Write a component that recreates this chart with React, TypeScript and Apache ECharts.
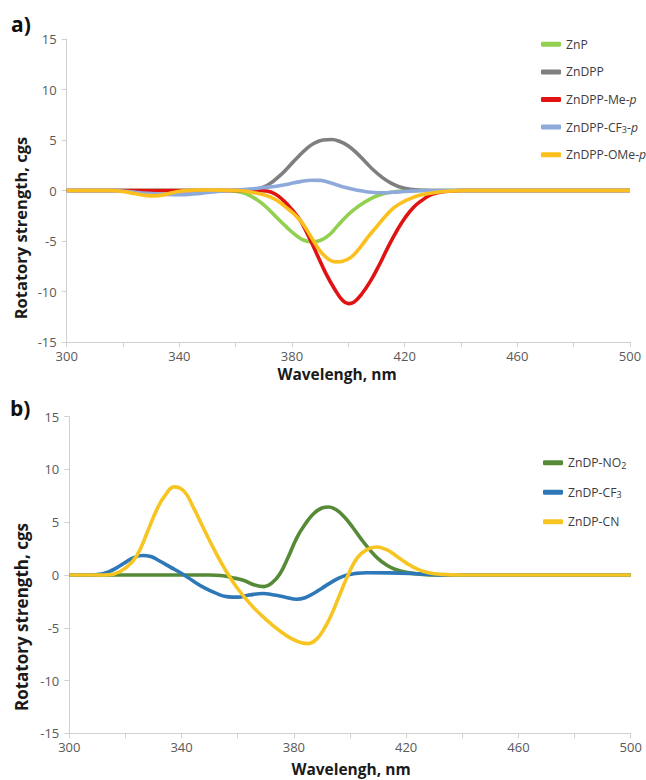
import React, { useEffect, useRef } from "react";
import * as echarts from "echarts";

// ---- Panel a) data: [wavelength nm, rotatory strength cgs] ----
const ZnP: [number, number][] = [
  [300, 0], [330, 0], [350, 0], [356, 0], [360, -0.06], [363, -0.25], [366, -0.65], [369, -1.2],
  [372, -1.95], [375, -2.8], [378, -3.6], [381, -4.35], [384, -4.9], [387, -5.08], [390, -4.95],
  [393, -4.45], [396, -3.55], [399, -2.65], [402, -1.9], [405, -1.3], [408, -0.8], [411, -0.45],
  [415, -0.18], [420, -0.04], [425, 0], [450, 0], [500, 0],
];
const ZnDPP: [number, number][] = [
  [300, 0], [330, 0], [355, 0], [364, 0], [367, 0.1], [370, 0.35], [373, 0.85], [376, 1.55],
  [379, 2.4], [382, 3.3], [385, 4.1], [388, 4.7], [391, 5.0], [394, 5.05], [397, 4.85],
  [400, 4.4], [403, 3.7], [406, 2.85], [409, 2.0], [412, 1.3], [415, 0.75], [418, 0.38],
  [422, 0.12], [427, 0.02], [432, 0], [460, 0], [500, 0],
];
const ZnDPPMe: [number, number][] = [
  [300, 0], [330, 0], [355, 0], [368, 0], [371, -0.05], [374, -0.35], [377, -1.0], [380, -1.9],
  [383, -3.0], [386, -4.6], [389, -6.4], [392, -8.2], [395, -9.7], [398, -10.9], [400, -11.2],
  [402, -11.05], [405, -10.15], [408, -8.9], [411, -7.35], [414, -5.65], [417, -4.1], [420, -2.75],
  [423, -1.7], [426, -1.0], [429, -0.46], [432, -0.2], [436, -0.05], [440, 0], [470, 0], [500, 0],
];
const ZnDPPCF3: [number, number][] = [
  [300, 0], [310, 0], [318, 0], [321, -0.08], [325, -0.2], [330, -0.3], [335, -0.38], [340, -0.42],
  [345, -0.35], [350, -0.2], [355, -0.05], [359, 0.02], [363, 0.1], [367, 0.2], [371, 0.32],
  [375, 0.45], [379, 0.65], [383, 0.88], [387, 1.02], [390, 1.0], [393, 0.82], [396, 0.55],
  [399, 0.3], [402, 0.1], [405, -0.05], [408, -0.17], [412, -0.23], [416, -0.18], [420, -0.1],
  [424, -0.04], [428, 0], [460, 0], [500, 0],
];
const ZnDPPOMe: [number, number][] = [
  [300, 0], [310, 0], [316, 0], [320, -0.1], [324, -0.3], [328, -0.48], [331, -0.53], [334, -0.45],
  [337, -0.25], [340, -0.08], [344, 0.03], [350, 0.05], [356, 0.02], [360, 0], [363, -0.05],
  [366, -0.2], [369, -0.35], [372, -0.6], [375, -1.05], [378, -1.7], [381, -2.4], [384, -3.35],
  [387, -4.7], [390, -6.0], [393, -6.8], [395.5, -7.07], [398, -7.0], [401, -6.6], [404, -5.7],
  [407, -4.6], [410, -3.6], [413, -2.6], [416, -1.75], [419, -1.2], [422, -0.8], [425, -0.5],
  [429, -0.28], [433, -0.12], [438, -0.03], [442, 0], [470, 0], [500, 0],
];

// ---- Panel b) data ----
const ZnDPNO2: [number, number][] = [
  [300, 0], [320, 0], [340, 0], [350, 0], [354, -0.05], [358, -0.25], [362, -0.5], [366, -0.95],
  [369.5, -1.1], [372, -0.8], [375, 0.1], [378, 1.7], [381, 3.5], [384, 4.8], [387, 5.8],
  [390, 6.35], [392.5, 6.45], [395, 6.2], [398, 5.5], [401, 4.5], [404, 3.4], [407, 2.4],
  [410, 1.55], [413, 0.95], [416, 0.55], [420, 0.25], [425, 0.08], [430, 0], [460, 0], [500, 0],
];
const ZnDPCF3: [number, number][] = [
  [300, 0], [306, 0], [310, 0.05], [314, 0.3], [317, 0.7], [320, 1.2], [323, 1.65], [326, 1.85],
  [329, 1.75], [332, 1.35], [336, 0.75], [340, 0.15], [344, -0.55], [348, -1.2], [352, -1.7],
  [356, -2.05], [360, -2.1], [364, -1.9], [369, -1.75], [373, -1.9], [377, -2.1], [381, -2.3],
  [384, -2.15], [387, -1.75], [390, -1.25], [393, -0.75], [396, -0.3], [399, 0.0], [402, 0.15],
  [406, 0.22], [414, 0.2], [422, 0.14], [428, 0.07], [435, 0], [460, 0], [500, 0],
];
const ZnDPCN: [number, number][] = [
  [300, 0], [308, 0], [312, 0], [316, 0.1], [320, 0.65], [324, 1.8], [328, 4.2], [331, 6.1],
  [334, 7.5], [337.5, 8.35], [341, 7.9], [344, 6.5], [347.5, 4.6], [352, 2.2], [356, 0.3],
  [360, -1.3], [365, -2.9], [370, -4.2], [375, -5.3], [379, -6.0], [383, -6.45], [385, -6.5],
  [388, -6.1], [391, -5.0], [393.5, -3.7], [396, -2.1], [399, -0.2], [402.5, 1.6], [406, 2.4],
  [409.5, 2.65], [413, 2.4], [416, 1.9], [420, 1.15], [424, 0.55], [428, 0.22], [433, 0.06],
  [440, 0], [470, 0], [500, 0],
];

const seriesA = [
  { name: "ZnP", data: ZnP, color: "#92d050" },
  { name: "ZnDPP", data: ZnDPP, color: "#7f7f7f" },
  { name: "ZnDPP-Me-p", data: ZnDPPMe, color: "#e01212" },
  { name: "ZnDPP-CF3-p", data: ZnDPPCF3, color: "#8eaadb" },
  { name: "ZnDPP-OMe-p", data: ZnDPPOMe, color: "#fcc01e" },
];
const seriesB = [
  { name: "ZnDP-NO2", data: ZnDPNO2, color: "#568a37" },
  { name: "ZnDP-CF3", data: ZnDPCF3, color: "#2e78b8" },
  { name: "ZnDP-CN", data: ZnDPCN, color: "#f7c521" },
];

const legendLabels: Record<string, string> = {
  "ZnP": "{n|ZnP}",
  "ZnDPP": "{n|ZnDPP}",
  "ZnDPP-Me-p": "{n|ZnDPP-Me-}{it|p}",
  "ZnDPP-CF3-p": "{n|ZnDPP-CF}{sub|3}{n|-}{it|p}",
  "ZnDPP-OMe-p": "{n|ZnDPP-OMe-}{it|p}",
  "ZnDP-NO2": "{n|ZnDP-NO}{sub|2}",
  "ZnDP-CF3": "{n|ZnDP-CF}{sub|3}",
  "ZnDP-CN": "{n|ZnDP-CN}",
};

const FONT = "'Open Sans', 'Noto Sans', sans-serif";

export default function App() {
  const ref = useRef<HTMLDivElement>(null);
  useEffect(() => {
    if (!ref.current) return;
    const chart = echarts.init(ref.current, undefined, { renderer: "svg" });
    const axisColor = "#d0d0d0";
    const xAxisBase = (i: number) => ({
      type: "value",
      gridIndex: i,
      min: 300,
      max: 500,
      interval: 20,
      axisLine: { show: true, onZero: false, lineStyle: { color: axisColor, width: 1 } },
      axisTick: { show: true, length: 5, lineStyle: { color: axisColor } },
      splitLine: { show: false },
      axisLabel: {
        formatter: (v: number) => ((v - 300) % 40 === 0 ? String(v) : ""),
        color: "#595959",
        fontSize: 13,
        fontFamily: FONT,
        margin: 7,
      },
    });
    const yAxisBase = (i: number) => ({
      type: "value",
      gridIndex: i,
      min: -15,
      max: 15,
      interval: 5,
      axisLine: { show: true, onZero: false, lineStyle: { color: axisColor, width: 1 } },
      axisTick: { show: true, length: 5, lineStyle: { color: axisColor } },
      splitLine: { show: false },
      axisLabel: { color: "#595959", fontSize: 13, fontFamily: FONT, margin: 10 },
    });
    const FS = 12.2;
    const legendText = {
      fontSize: FS,
      color: "#3c3c3c",
      fontFamily: FONT,
      lineHeight: 14,
      rich: {
        n: { fontSize: FS, lineHeight: 14, verticalAlign: "middle", color: "#3c3c3c", fontFamily: FONT },
        sub: { fontSize: 9, lineHeight: 9, verticalAlign: "bottom", color: "#3c3c3c", fontFamily: FONT },
        it: { fontSize: FS, lineHeight: 14, verticalAlign: "middle", fontStyle: "italic", color: "#3c3c3c", fontFamily: FONT },
      },
    };
    const mkSeries = (s: any, i: number) => ({
      name: s.name,
      type: "line",
      xAxisIndex: i,
      yAxisIndex: i,
      data: s.data,
      smooth: 0.45,
      showSymbol: false,
      symbol: "none",
      lineStyle: { color: s.color, width: 3.6 },
      itemStyle: { color: s.color },
      emphasis: { disabled: true },
    });
    const titleStyle = (text: string, size: number) => ({
      text,
      x: 0,
      y: 0,
      font: `bold ${size}px ${FONT}`,
      fill: "#1a1a1a",
      align: "center",
      textAlign: "center",
      verticalAlign: "middle",
      textVerticalAlign: "middle",
    });
    chart.setOption({
      animation: false,
      grid: [
        { left: 66.7, top: 39, width: 563.3, height: 303 },
        { left: 69.3, top: 416.7, width: 561.4, height: 316.6 },
      ],
      xAxis: [xAxisBase(0), xAxisBase(1)],
      yAxis: [yAxisBase(0), yAxisBase(1)],
      legend: [
        {
          data: seriesA.map((s) => s.name),
          orient: "vertical",
          left: 541,
          top: 37.3,
          padding: 0,
          itemGap: 13.6,
          itemWidth: 20,
          itemHeight: 5,
          icon: "roundRect",
          selectedMode: false,
          formatter: (n: string) => legendLabels[n] || n,
          textStyle: legendText,
        },
        {
          data: seriesB.map((s) => s.name),
          orient: "vertical",
          left: 543,
          top: 455.7,
          padding: 0,
          itemGap: 15.5,
          itemWidth: 20,
          itemHeight: 5,
          icon: "roundRect",
          selectedMode: false,
          formatter: (n: string) => legendLabels[n] || n,
          textStyle: legendText,
        },
      ],
      graphic: [
        { type: "text", x: 11, y: 13, style: { text: "a)", font: `bold 21px ${FONT}`, fill: "#111" } },
        { type: "text", x: 10, y: 397, style: { text: "b)", font: `bold 21px ${FONT}`, fill: "#111" } },
        { type: "text", x: 20, y: 228, rotation: Math.PI / 2, style: titleStyle("Rotatory strength, cgs", 16.5) },
        { type: "text", x: 21, y: 617, rotation: Math.PI / 2, style: titleStyle("Rotatory strength, cgs", 17) },
        { type: "text", x: 337, y: 374, style: titleStyle("Wavelengh, nm", 15.5) },
        { type: "text", x: 351, y: 769, style: titleStyle("Wavelengh, nm", 15.5) },
      ],
      series: [...seriesA.map((s) => mkSeries(s, 0)), ...seriesB.map((s) => mkSeries(s, 1))],
    });
    return () => chart.dispose();
  }, []);
  return (
    <div
      ref={ref}
      style={{ position: "absolute", left: 0, top: 0, width: 646, height: 780, background: "#fff" }}
    />
  );
}
